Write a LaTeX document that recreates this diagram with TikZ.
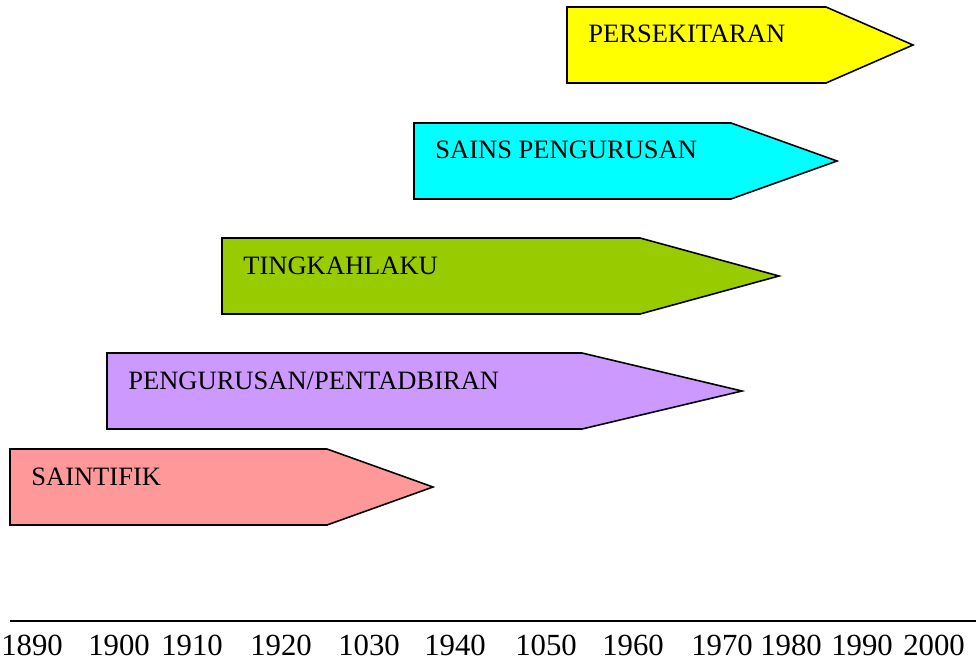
\documentclass[tikz,border=0pt]{standalone}
\usepackage{fontspec}
\setmainfont{Liberation Serif}
\definecolor{kpink}{HTML}{FF9999}
\definecolor{klilac}{HTML}{CC99FF}
\definecolor{kolive}{HTML}{99CC00}
\definecolor{kcyan}{HTML}{00FFFF}
\definecolor{kyellow}{HTML}{FFFF00}
\tikzset{
  kband/.style={draw=black,line width=0.9pt,line join=miter},
  klabel/.style={anchor=base west,inner sep=0pt,font=\fontsize{15.1}{18}\selectfont},
  kyear/.style={anchor=base,inner sep=0pt,font=\fontsize{17.5}{20}\selectfont}
}
\begin{document}
\begin{tikzpicture}[x=0.02cm,y=-0.02cm]
\useasboundingbox (0,0) rectangle (976,662);
\pgfmathsetmacro{\kh}{76}
\pgfmathsetmacro{\ktx}{21}
\pgfmathsetmacro{\kty}{36}
\foreach \kn/\kl/\kt/\ks/\kp/\kc/\klb in {sai/10/449/327/433/kpink/SAINTIFIK,pen/107/353/582/742/klilac/{PENGURUSAN/PENTADBIRAN},tin/222/238/640/779/kolive/TINGKAHLAKU,sns/414/123/731/837/kcyan/SAINS PENGURUSAN,per/567/7/826/913/kyellow/PERSEKITARAN}{
\draw[kband,fill=\kc](\kl,\kt)--(\ks,\kt)--(\kp,\kt+\kh/2)--(\ks,\kt+\kh)--(\kl,\kt+\kh)--cycle;
\node[klabel](\kn) at (\kl+\ktx,\kt+\kty){\klb};
}
%axis
\coordinate (axL) at (10,621);
\coordinate (axR) at (976,621);
\draw[line width=1.1pt](axL)--(axR);
\foreach \kx/\ky in {32/1890,119/1900,192/1910,281/1920,369/1030,455/1940,546/1050,633/1960,722/1970,791/1980,862/1990,934/2000}{\node[kyear](y\ky) at (\kx,655){\ky};}
\end{tikzpicture}
\end{document}
